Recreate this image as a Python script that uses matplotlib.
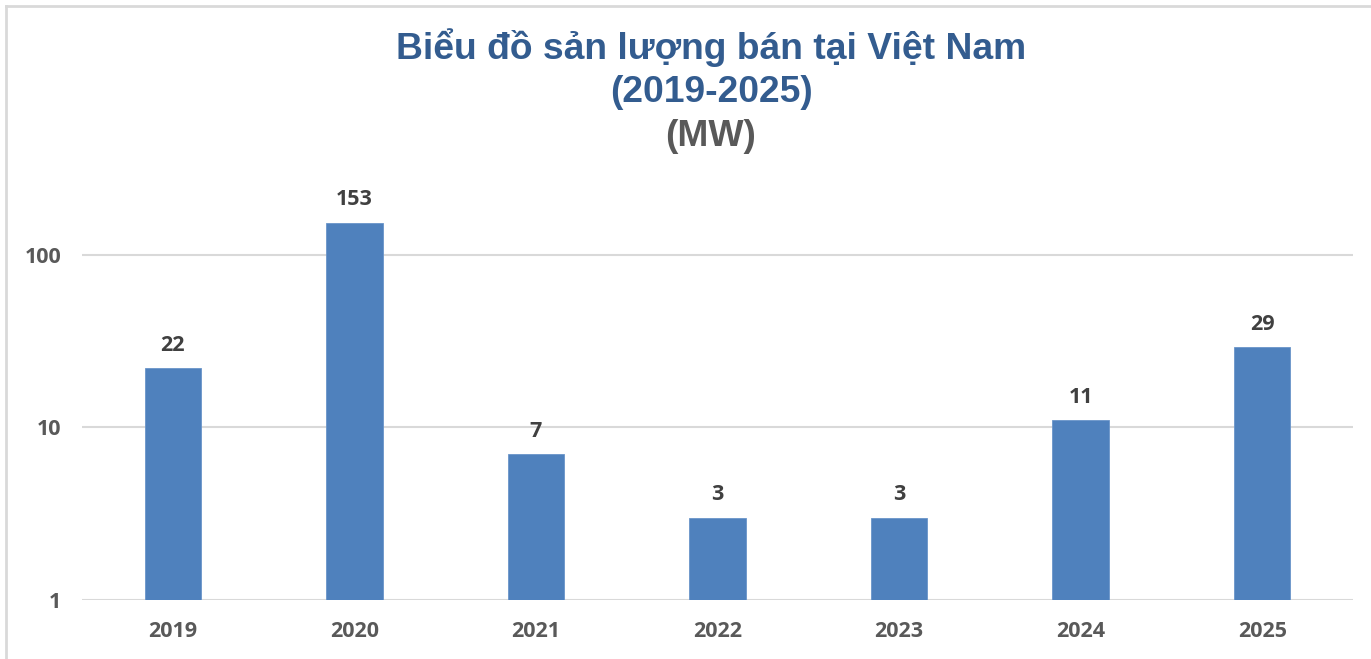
import numpy as np
import matplotlib
matplotlib.use('Agg')
import matplotlib.pyplot as plt
from matplotlib.lines import Line2D

years = ['2019', '2020', '2021', '2022', '2023', '2024', '2025']
values = [22, 153, 7, 3, 3, 11, 29]
y_ticks = [1, 10, 100]
y_tick_labels = ['1', '10', '100']

bar_color = '#4F81BD'
grid_color = '#D9D9D9'
label_font = 'Open Sans'

fig = plt.figure(figsize=(13.71, 6.59), dpi=100)
ax = fig.add_axes([82 / 1371, 59 / 659, 1271 / 1371, 420 / 659])

x = np.arange(len(years))
ax.bar(x, values, width=0.31, color=bar_color, edgecolor='#6A95C9', linewidth=0.6, zorder=3)
ax.set_yscale('log')
ax.set_ylim(1, 270)
ax.set_xlim(-0.5, len(years) - 0.5)

ax.yaxis.set_major_locator(matplotlib.ticker.FixedLocator(y_ticks))
ax.yaxis.set_minor_locator(matplotlib.ticker.NullLocator())
ax.set_yticklabels(y_tick_labels)
ax.set_xticks(x)
ax.set_xticklabels(years)
ax.tick_params(axis='both', length=0, labelsize=15.5, labelcolor='#595959')
ax.tick_params(axis='y', pad=15)
ax.tick_params(axis='x', pad=15)
for lab in ax.get_xticklabels() + ax.get_yticklabels():
    lab.set_fontfamily(label_font)
    lab.set_fontweight('bold')

ax.grid(axis='y', color=grid_color, linewidth=1.5, zorder=0)
for s in ax.spines.values():
    s.set_visible(False)

for xi, v in zip(x, values):
    ax.annotate(str(v), (xi, v), xytext=(0, 9), textcoords='offset points',
                ha='center', va='bottom', fontsize=15.5, fontweight='bold',
                family=label_font, color='#404040')

# title
title_x = 711 / 1371
fig.text(title_x, 1 - 48 / 659, 'Biểu đồ sản lượng bán tại Việt Nam', ha='center', va='center',
         fontsize=26.8, fontweight='bold', family='Liberation Sans', color='#335C8F')
fig.text(title_x, 1 - 93 / 659, '(2019-2025)', ha='center', va='center',
         fontsize=26.8, fontweight='bold', family='Liberation Sans', color='#335C8F')
fig.text(title_x, 1 - 137 / 659, '(MW)', ha='center', va='center',
         fontsize=26.8, fontweight='bold', family='Liberation Sans', color='#595959')

# chart area border (left and top visible)
fig.add_artist(Line2D([6 / 1371, 6 / 1371], [0, 1 - 6 / 659], transform=fig.transFigure,
                      color='#D9D9D9', linewidth=2))
fig.add_artist(Line2D([6 / 1371, 1], [1 - 6 / 659, 1 - 6 / 659], transform=fig.transFigure,
                      color='#D9D9D9', linewidth=2))

fig.savefig('out.png', dpi=100)
